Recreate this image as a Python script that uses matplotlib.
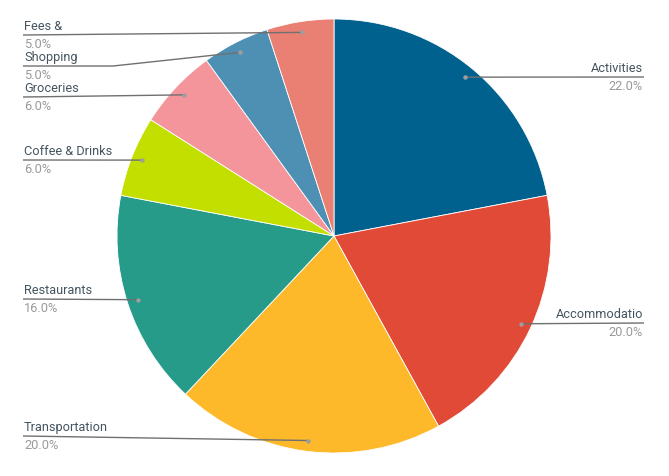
import matplotlib
matplotlib.use("Agg")
import matplotlib.pyplot as plt
import numpy as np

categories = ["Activities", "Accommodatio", "Transportation", "Restaurants",
              "Coffee & Drinks", "Groceries", "Shopping", "Fees &"]
values = [22.0, 20.0, 20.0, 16.0, 6.0, 6.0, 5.0, 5.0]
colors = ["#00618f", "#e04a37", "#fdb92a", "#279b8a",
          "#c2df00", "#f3959a", "#4d90b4", "#ea8074"]

# layout (pixel coords, y measured from top)
W, H = 669, 476
cx, cy, R = 334, 236, 217
label_y = [77, 323, 436, 299, 160, 97, 66, 35]
label_side = ["R", "R", "L", "L", "L", "L", "L", "L"]
elbow_x = [None, None, None, None, None, None, 113, None]
LEFT_X, RIGHT_X = 23, 644

plt.rcParams['font.family'] = ['Roboto', 'DejaVu Sans']
fig = plt.figure(figsize=(W / 100, H / 100), dpi=100)
ax = fig.add_axes([0, 0, 1, 1])
ax.pie(values, colors=colors, startangle=90, counterclock=False,
       center=(cx, H - cy), radius=R,
       wedgeprops=dict(linewidth=0.6, edgecolor="white"))
ax.set_xlim(0, W)
ax.set_ylim(0, H)
ax.set_aspect('equal')
ax.axis('off')

total = sum(values)
cum = 0.0
for name, v, ly, side, ex in zip(categories, values, label_y, label_side, elbow_x):
    mid = 90 - (cum + v / 2) / total * 360
    cum += v
    th = np.deg2rad(mid)
    dx = cx + 0.95 * R * np.cos(th)
    dy = (H - cy) + 0.95 * R * np.sin(th)
    y = H - ly
    if side == "L":
        xs = [LEFT_X] + ([ex] if ex else []) + [dx]
        ys = [y] + ([y] if ex else []) + [dy]
        ha, tx = "left", LEFT_X + 1
    else:
        xs = [dx, RIGHT_X]
        ys = [dy, y]
        ha, tx = "right", RIGHT_X - 1
    ax.plot(xs, ys, color="#707070", lw=1.0, solid_capstyle="butt", zorder=5)
    ax.plot([dx], [dy], marker="o", ms=3.2, color="#9e9e9e", mec="none", zorder=6)
    ax.text(tx, y + 2, name, ha=ha, va="bottom", fontsize=9.2, color="#455560")
    ax.text(tx, y - 3, f"{v:.1f}%", ha=ha, va="top", fontsize=9.2, color="#9a9a9a")

fig.savefig("out.png", dpi=100)
